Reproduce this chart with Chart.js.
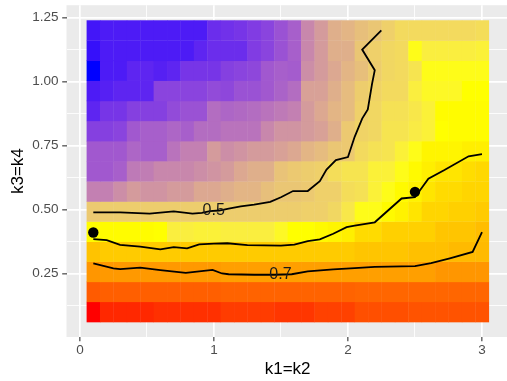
<!DOCTYPE html>
<html>
<head>
<meta charset="utf-8">
<script src="https://cdn.jsdelivr.net/npm/chart.js@4.4.0/dist/chart.umd.min.js"></script>
<style>
  html, body { margin: 0; padding: 0; background: #fff; overflow: hidden; }
  canvas { display: block; }
</style>
</head>
<body>
<canvas id="myChart" width="514" height="381"></canvas>
<script>
// grid of the heat map (k1=k2 across, k3=k4 up)
let xCenters = [0.1, 0.2, 0.3, 0.4, 0.5, 0.6, 0.7, 0.8, 0.9, 1.0, 1.1, 1.2, 1.3, 1.4, 1.5,
                1.6, 1.7, 1.8, 1.9, 2.0, 2.1, 2.2, 2.3, 2.4, 2.5, 2.6, 2.7, 2.8, 2.9, 3.0];
let yCenters = [0.1, 0.179, 0.257, 0.336, 0.414, 0.493, 0.571, 0.65, 0.729, 0.807, 0.886, 0.964, 1.043, 1.121, 1.2];

// one array per row, bottom row first
let row01 = [0.90, 0.885, 0.885, 0.885, 0.885, 0.88, 0.88, 0.88, 0.88, 0.88, 0.87, 0.87, 0.87, 0.87, 0.875, 0.875, 0.875, 0.865, 0.865, 0.865, 0.85, 0.85, 0.85, 0.85, 0.845, 0.845, 0.845, 0.845, 0.845, 0.845];
let row02 = [0.835, 0.83, 0.83, 0.83, 0.83, 0.83, 0.83, 0.83, 0.83, 0.83, 0.825, 0.825, 0.825, 0.825, 0.825, 0.825, 0.825, 0.825, 0.825, 0.825, 0.82, 0.82, 0.82, 0.82, 0.82, 0.82, 0.82, 0.82, 0.82, 0.82];
let row03 = [0.745, 0.74, 0.74, 0.74, 0.74, 0.74, 0.74, 0.74, 0.74, 0.74, 0.73, 0.73, 0.73, 0.73, 0.73, 0.73, 0.73, 0.73, 0.73, 0.73, 0.73, 0.73, 0.73, 0.73, 0.73, 0.73, 0.745, 0.745, 0.745, 0.745];
let row04 = [0.665, 0.65, 0.65, 0.65, 0.65, 0.65, 0.65, 0.65, 0.65, 0.65, 0.65, 0.65, 0.65, 0.65, 0.65, 0.65, 0.65, 0.65, 0.65, 0.65, 0.66, 0.66, 0.66, 0.66, 0.67, 0.67, 0.67, 0.68, 0.68, 0.68];
let row05 = [0.555, 0.555, 0.555, 0.555, 0.555, 0.55, 0.525, 0.525, 0.53, 0.53, 0.525, 0.525, 0.525, 0.525, 0.54, 0.55, 0.55, 0.56, 0.57, 0.58, 0.62, 0.62, 0.64, 0.64, 0.64, 0.64, 0.66, 0.66, 0.66, 0.675];
let row06 = [0.47, 0.475, 0.475, 0.475, 0.475, 0.475, 0.475, 0.475, 0.475, 0.475, 0.475, 0.475, 0.475, 0.475, 0.475, 0.475, 0.48, 0.48, 0.49, 0.515, 0.545, 0.545, 0.56, 0.575, 0.60, 0.63, 0.63, 0.64, 0.64, 0.65];
let row07 = [0.36, 0.36, 0.38, 0.40, 0.39, 0.39, 0.40, 0.40, 0.42, 0.42, 0.43, 0.44, 0.44, 0.455, 0.465, 0.465, 0.47, 0.48, 0.48, 0.50, 0.505, 0.53, 0.545, 0.56, 0.575, 0.60, 0.62, 0.62, 0.63, 0.63];
let row08 = [0.30, 0.30, 0.31, 0.35, 0.355, 0.37, 0.37, 0.37, 0.38, 0.39, 0.40, 0.42, 0.43, 0.43, 0.46, 0.47, 0.475, 0.48, 0.50, 0.51, 0.51, 0.53, 0.53, 0.545, 0.56, 0.58, 0.60, 0.60, 0.615, 0.625];
let row09 = [0.30, 0.30, 0.30, 0.32, 0.31, 0.31, 0.34, 0.36, 0.36, 0.40, 0.38, 0.39, 0.40, 0.40, 0.41, 0.42, 0.44, 0.45, 0.465, 0.47, 0.495, 0.505, 0.51, 0.53, 0.545, 0.57, 0.57, 0.57, 0.58, 0.58];
let row10 = [0.265, 0.265, 0.27, 0.30, 0.31, 0.31, 0.32, 0.31, 0.33, 0.33, 0.34, 0.34, 0.34, 0.37, 0.39, 0.39, 0.40, 0.41, 0.43, 0.47, 0.485, 0.49, 0.51, 0.51, 0.52, 0.53, 0.55, 0.555, 0.555, 0.555];
let row11 = [0.23, 0.25, 0.25, 0.265, 0.265, 0.265, 0.28, 0.29, 0.29, 0.33, 0.32, 0.325, 0.33, 0.34, 0.35, 0.36, 0.40, 0.42, 0.44, 0.45, 0.48, 0.49, 0.505, 0.505, 0.515, 0.53, 0.555, 0.555, 0.555, 0.555];
let row12 = [0.22, 0.225, 0.23, 0.23, 0.23, 0.27, 0.27, 0.27, 0.27, 0.28, 0.275, 0.29, 0.29, 0.30, 0.315, 0.33, 0.41, 0.41, 0.43, 0.45, 0.475, 0.485, 0.495, 0.495, 0.525, 0.54, 0.54, 0.54, 0.55, 0.55];
let row13 = [0.20, 0.22, 0.22, 0.23, 0.23, 0.225, 0.23, 0.25, 0.25, 0.25, 0.265, 0.27, 0.275, 0.30, 0.31, 0.305, 0.38, 0.40, 0.42, 0.44, 0.455, 0.475, 0.49, 0.495, 0.51, 0.545, 0.545, 0.545, 0.545, 0.545];
let row14 = [0.21, 0.22, 0.22, 0.22, 0.22, 0.22, 0.22, 0.22, 0.23, 0.24, 0.24, 0.24, 0.26, 0.27, 0.29, 0.31, 0.37, 0.40, 0.43, 0.43, 0.465, 0.48, 0.49, 0.495, 0.545, 0.525, 0.525, 0.525, 0.525, 0.53];
let row15 = [0.215, 0.22, 0.22, 0.22, 0.22, 0.22, 0.22, 0.22, 0.22, 0.24, 0.245, 0.25, 0.26, 0.27, 0.29, 0.31, 0.37, 0.40, 0.43, 0.44, 0.455, 0.465, 0.48, 0.495, 0.495, 0.495, 0.495, 0.495, 0.495, 0.50];
let rows = [row01, row02, row03, row04, row05, row06, row07, row08, row09, row10, row11, row12, row13, row14, row15];

// contour lines (the labels sit on top of the lines)
let contour05 = [
    {x: 0.1, y: 0.489}, {x: 0.3, y: 0.489}, {x: 0.52, y: 0.484}, {x: 0.7, y: 0.493}, {x: 0.84, y: 0.484}, {x: 0.91, y: 0.487},
    {x: 0.97, y: 0.494}, {x: 1.04, y: 0.496}, {x: 1.11, y: 0.503}, {x: 1.2, y: 0.512}, {x: 1.3, y: 0.519}, {x: 1.42, y: 0.53},
    {x: 1.5, y: 0.548}, {x: 1.59, y: 0.572}, {x: 1.7, y: 0.572}, {x: 1.79, y: 0.611}, {x: 1.84, y: 0.656}, {x: 1.91, y: 0.693},
    {x: 2.0, y: 0.705}, {x: 2.05, y: 0.784}, {x: 2.106, y: 0.855}, {x: 2.148, y: 0.891}, {x: 2.18, y: 0.992}, {x: 2.2, y: 1.044},
    {x: 2.106, y: 1.125}, {x: 2.249, y: 1.2}
];
let contour06 = [
    {x: 0.1, y: 0.384}, {x: 0.2, y: 0.38}, {x: 0.3, y: 0.362}, {x: 0.45, y: 0.355}, {x: 0.6, y: 0.344}, {x: 0.7, y: 0.353},
    {x: 0.8, y: 0.348}, {x: 0.89, y: 0.364}, {x: 1.0, y: 0.367}, {x: 1.1, y: 0.368}, {x: 1.25, y: 0.361}, {x: 1.5, y: 0.359},
    {x: 1.6, y: 0.363}, {x: 1.7, y: 0.376}, {x: 1.79, y: 0.383}, {x: 1.89, y: 0.405}, {x: 1.99, y: 0.431}, {x: 2.05, y: 0.437},
    {x: 2.2, y: 0.45}, {x: 2.4, y: 0.543}, {x: 2.5, y: 0.548}, {x: 2.6, y: 0.62}, {x: 2.72, y: 0.654}, {x: 2.9, y: 0.708}, {x: 3.0, y: 0.716}
];
let contour07 = [
    {x: 0.1, y: 0.289}, {x: 0.25, y: 0.27}, {x: 0.3, y: 0.267}, {x: 0.45, y: 0.273}, {x: 0.6, y: 0.263}, {x: 0.79, y: 0.252},
    {x: 0.99, y: 0.264}, {x: 1.06, y: 0.25}, {x: 1.11, y: 0.247}, {x: 1.3, y: 0.245}, {x: 1.45, y: 0.245}, {x: 1.58, y: 0.247},
    {x: 1.7, y: 0.258}, {x: 1.89, y: 0.266}, {x: 2.05, y: 0.271}, {x: 2.2, y: 0.276}, {x: 2.5, y: 0.279},
    {x: 2.62, y: 0.29}, {x: 2.76, y: 0.309}, {x: 2.93, y: 0.334}, {x: 3.0, y: 0.412}
];
let contourLabels = [
    {text: '0.5', x: 0.998, y: 0.494},
    {text: '0.7', x: 1.496, y: 0.247}
];
let markedPoints = [{x: 0.1, y: 0.41}, {x: 2.5, y: 0.569}];

let xMajor = [0, 1, 2, 3];
let xMinor = [0.5, 1.5, 2.5];
let yMajor = [0.25, 0.5, 0.75, 1.0, 1.25];
let yMinor = [0.125, 0.375, 0.625, 0.875, 1.125];

let tileW = 0.1;
let tileH = 0.0786;
let fontFamily = "'Liberation Sans', Arial, sans-serif";

// fill scale: blue -> yellow -> red, interpolated in Lab like ggplot
let fillLow = [0, 0, 255], fillMid = [255, 255, 0], fillHigh = [255, 0, 0];
let fillLimits = [0.2, 0.55, 0.9];

function toLinear(c) {
    c /= 255;
    return c <= 0.04045 ? c / 12.92 : Math.pow((c + 0.055) / 1.055, 2.4);
}
function toSrgb(c) {
    c = c <= 0.0031308 ? 12.92 * c : 1.055 * Math.pow(c, 1 / 2.4) - 0.055;
    return Math.round(Math.min(1, Math.max(0, c)) * 255);
}
function rgbToLab(rgb) {
    let r = toLinear(rgb[0]), g = toLinear(rgb[1]), b = toLinear(rgb[2]);
    let x = (0.4124 * r + 0.3576 * g + 0.1805 * b) / 0.95047;
    let y = 0.2126 * r + 0.7152 * g + 0.0722 * b;
    let z = (0.0193 * r + 0.1192 * g + 0.9505 * b) / 1.08883;
    let f = (t) => t > 0.008856 ? Math.cbrt(t) : 7.787 * t + 16 / 116;
    return [116 * f(y) - 16, 500 * (f(x) - f(y)), 200 * (f(y) - f(z))];
}
function labToRgb(lab) {
    let fy = (lab[0] + 16) / 116, fx = fy + lab[1] / 500, fz = fy - lab[2] / 200;
    let inv = (t) => t > 0.206893 ? t * t * t : (t - 16 / 116) / 7.787;
    let x = 0.95047 * inv(fx), y = inv(fy), z = 1.08883 * inv(fz);
    let r = 3.2406 * x - 1.5372 * y - 0.4986 * z;
    let g = -0.9689 * x + 1.8758 * y + 0.0415 * z;
    let b = 0.0557 * x - 0.2040 * y + 1.0570 * z;
    return 'rgb(' + toSrgb(r) + ',' + toSrgb(g) + ',' + toSrgb(b) + ')';
}
let labLow = rgbToLab(fillLow), labMid = rgbToLab(fillMid), labHigh = rgbToLab(fillHigh);

function fillColour(v) {
    let from = labMid, to, t;
    if (v <= fillLimits[1]) {
        to = labLow;
        t = (fillLimits[1] - v) / (fillLimits[1] - fillLimits[0]);
    } else {
        to = labHigh;
        t = (v - fillLimits[1]) / (fillLimits[2] - fillLimits[1]);
    }
    t = Math.min(1, Math.max(0, t));
    return labToRgb([0, 1, 2].map((k) => from[k] + (to[k] - from[k]) * t));
}

const panelBackground = {
    id: 'panelBackground',
    beforeDraw: (chart) => {
        let {ctx, chartArea} = chart;
        ctx.save();
        ctx.fillStyle = '#EBEBEB';
        ctx.fillRect(chartArea.left, chartArea.top, chartArea.width, chartArea.height);
        ctx.restore();
    }
};

const heatTiles = {
    id: 'heatTiles',
    beforeDatasetsDraw: (chart) => {
        let {ctx, chartArea} = chart;
        let xs = chart.scales.x, ys = chart.scales.y;
        ctx.save();
        ctx.beginPath();
        ctx.rect(chartArea.left, chartArea.top, chartArea.width, chartArea.height);
        ctx.clip();
        rows.forEach((row, j) => {
            row.forEach((v, i) => {
                let left = xs.getPixelForValue(xCenters[i] - tileW / 2);
                let right = xs.getPixelForValue(xCenters[i] + tileW / 2);
                let top = ys.getPixelForValue(yCenters[j] + tileH / 2);
                let bottom = ys.getPixelForValue(yCenters[j] - tileH / 2);
                ctx.fillStyle = fillColour(v);
                ctx.fillRect(left, top, right - left + 0.4, bottom - top + 0.4);
            });
        });
        ctx.restore();
    }
};

const contourText = {
    id: 'contourText',
    afterDatasetsDraw: (chart) => {
        let {ctx} = chart;
        ctx.save();
        ctx.font = '16px ' + fontFamily;
        ctx.fillStyle = '#1A1A1A';
        ctx.textAlign = 'center';
        ctx.textBaseline = 'middle';
        contourLabels.forEach((l) => {
            ctx.fillText(l.text, chart.scales.x.getPixelForValue(l.x), chart.scales.y.getPixelForValue(l.y));
        });
        ctx.restore();
    }
};

function lineSet(points) {
    return {
        data: points,
        showLine: true,
        borderColor: '#000000',
        borderWidth: 1.8,
        pointRadius: 0,
        tension: 0
    };
}

let ctx = document.getElementById('myChart').getContext('2d');

let myChart = new Chart(ctx, {
    type: 'scatter',
    data: {
        datasets: [
            {
                data: markedPoints,
                pointRadius: 5.2,
                backgroundColor: '#000000',
                borderWidth: 0
            },
            lineSet(contour05),
            lineSet(contour06),
            lineSet(contour07)
        ]
    },
    options: {
        responsive: false,
        animation: false,
        layout: {
            padding: {top: 4, right: 1, left: 0, bottom: 0}
        },
        plugins: {
            legend: {display: false},
            tooltip: {enabled: false}
        },
        scales: {
            x: {
                type: 'linear',
                min: -0.1,
                max: 3.2,
                afterBuildTicks: (axis) => {
                    axis.ticks = xMajor.concat(xMinor).sort((a, b) => a - b).map((v) => ({value: v}));
                },
                afterFit: (axis) => {
                    axis.height = 44;
                    axis.paddingLeft = 0;
                    axis.paddingRight = 0;
                },
                border: {display: false},
                grid: {
                    color: '#FFFFFF',
                    lineWidth: (c) => xMajor.includes(c.tick.value) ? 1.7 : 0.85,
                    tickColor: (c) => xMajor.includes(c.tick.value) ? '#333333' : 'rgba(0,0,0,0)',
                    tickWidth: 1.1,
                    tickLength: 4.3
                },
                ticks: {
                    autoSkip: false,
                    maxRotation: 0,
                    padding: 0.7,
                    color: '#4D4D4D',
                    font: {family: fontFamily, size: 13.5},
                    callback: (v) => xMajor.includes(v) ? String(v) : ''
                },
                title: {
                    display: true,
                    text: 'k1=k2',
                    color: '#000000',
                    font: {family: fontFamily, size: 17},
                    padding: {top: 0, bottom: 1.3}
                }
            },
            y: {
                type: 'linear',
                min: 0.0018,
                max: 1.2982,
                afterBuildTicks: (axis) => {
                    axis.ticks = yMajor.concat(yMinor).sort((a, b) => a - b).map((v) => ({value: v}));
                },
                afterFit: (axis) => {
                    axis.width = 66.5;
                    axis.paddingTop = 0;
                    axis.paddingBottom = 0;
                },
                border: {display: false},
                grid: {
                    color: '#FFFFFF',
                    lineWidth: (c) => yMajor.includes(c.tick.value) ? 1.7 : 0.85,
                    tickColor: (c) => yMajor.includes(c.tick.value) ? '#333333' : 'rgba(0,0,0,0)',
                    tickWidth: 1.1,
                    tickLength: 4.3
                },
                ticks: {
                    autoSkip: false,
                    padding: 3.6,
                    color: '#4D4D4D',
                    font: {family: fontFamily, size: 13.5},
                    callback: (v) => yMajor.includes(v) ? v.toFixed(2) : ''
                },
                title: {
                    display: true,
                    text: 'k3=k4',
                    color: '#000000',
                    font: {family: fontFamily, size: 17},
                    padding: {top: 8, bottom: 0}
                }
            }
        }
    },
    plugins: [panelBackground, heatTiles, contourText]
});
</script>
</body>
</html>
